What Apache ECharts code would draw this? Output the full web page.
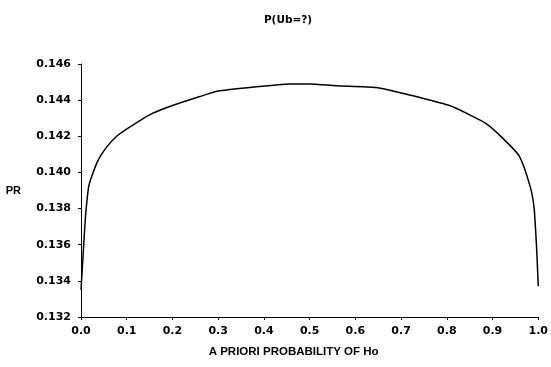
<!DOCTYPE html>
<html>
<head>
<meta charset="utf-8">
<script src="https://cdn.jsdelivr.net/npm/echarts@6/dist/echarts.min.js"></script>
<style>
html,body{margin:0;padding:0;background:#fff;}
#chart{width:551px;height:367px;}
</style>
</head>
<body>
<div id="chart"></div>
<script>
const titleText = 'P(Ub=?)';
const xAxisName = 'A PRIORI PROBABILITY OF Ho';
const yAxisName = 'PR';
const priorHo = [0, 0.005, 0.010, 0.0175, 0.036, 0.056, 0.078, 0.103, 0.151, 0.200, 0.260, 0.300, 0.369, 0.456, 0.500, 0.558, 0.646, 0.700, 0.733, 0.806, 0.849, 0.886, 0.922, 0.9585, 0.9825, 0.991, 0.9964, 1.0];
const prValues = [0.1335, 0.1356, 0.1376, 0.1393, 0.1406, 0.1414, 0.1420, 0.14245, 0.1432, 0.1437, 0.1442, 0.1445, 0.1447, 0.1449, 0.1449, 0.1448, 0.1447, 0.1444, 0.1442, 0.1437, 0.1432, 0.1427, 0.1419, 0.1409, 0.1392, 0.1380, 0.1358, 0.1337];

const FONT = 'Liberation Sans';
const TICKFONT = 'DejaVu Sans';
const chart = echarts.init(document.getElementById('chart'), null, {renderer: 'canvas'});
chart.setOption({
  backgroundColor: '#fff',
  animation: false,
  title: {
    text: titleText,
    left: 283, top: 10,
    textAlign: 'center',
    textStyle: {fontFamily: TICKFONT, fontSize: 10.5, fontWeight: 'bold', color: '#000'}
  },
  grid: {left: 81, right: 12, top: 64, bottom: 50},
  xAxis: {
    type: 'value', min: 0, max: 1, interval: 0.1,
    name: xAxisName, nameLocation: 'middle', nameGap: 29,
    nameTextStyle: {fontFamily: FONT, fontSize: 11.5, fontWeight: 'bold', color: '#000', padding: [0, 32, 0, 0]},
    axisLine: {show: true, lineStyle: {color: '#000', width: 1}},
    axisTick: {show: true, length: 3, lineStyle: {color: '#000'}},
    splitLine: {show: false},
    axisLabel: {margin: 9, fontFamily: TICKFONT, fontSize: 11, fontWeight: 'bold', color: '#000', formatter: v => v.toFixed(1)}
  },
  yAxis: {
    type: 'value', min: 0.132, max: 0.146, interval: 0.002,
    name: yAxisName, nameLocation: 'middle', nameGap: 60, nameRotate: 0,
    nameTextStyle: {fontFamily: FONT, fontSize: 11, fontWeight: 'bold', color: '#000'},
    axisLine: {show: true, lineStyle: {color: '#000', width: 1}},
    axisTick: {show: true, length: 3, lineStyle: {color: '#000'}},
    splitLine: {show: false},
    axisLabel: {margin: 10, fontFamily: TICKFONT, fontSize: 11, fontWeight: 'bold', color: '#000', formatter: v => v.toFixed(3)}
  },
  series: [{
    type: 'line',
    data: priorHo.map((x, i) => [x, prValues[i]]),
    showSymbol: false,
    smooth: 0.2,
    lineStyle: {color: '#000', width: 1.5}
  }]
});
</script>
</body>
</html>
